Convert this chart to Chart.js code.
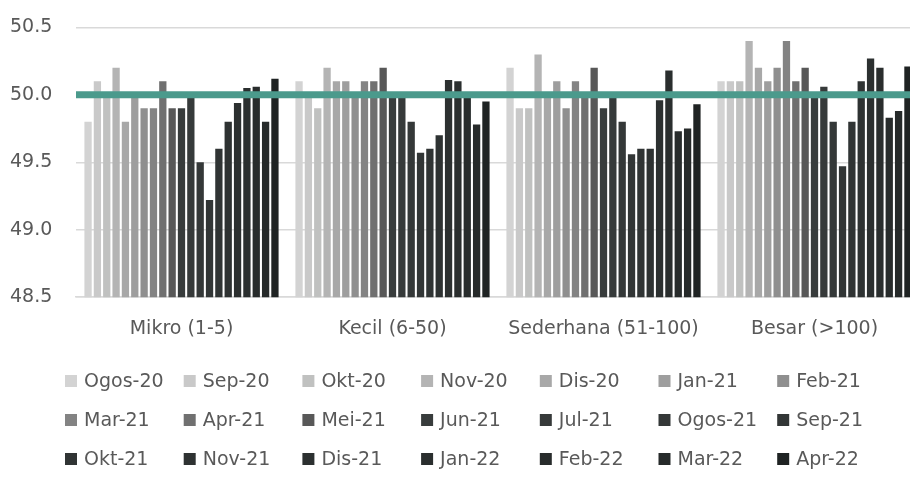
<!DOCTYPE html>
<html>
<head>
<meta charset="utf-8">
<script src="https://cdn.jsdelivr.net/npm/chart.js@4.4.1/dist/chart.umd.min.js"></script>
<style>
html,body{margin:0;padding:0;background:#fff;overflow:hidden;width:910px;height:485px;}
#wrap{position:relative;width:920px;height:485px;}
</style>
</head>
<body>
<div id="wrap"><canvas id="c"></canvas></div>
<script>
// Categories (firm size)
const categories = ['Mikro (1-5)', 'Kecil (6-50)', 'Sederhana (51-100)', 'Besar (>100)'];
// Series (months)
const months = ['Ogos-20','Sep-20','Okt-20','Nov-20','Dis-20','Jan-21','Feb-21','Mar-21','Apr-21','Mei-21','Jun-21','Jul-21','Ogos-21','Sep-21','Okt-21','Nov-21','Dis-21','Jan-22','Feb-22','Mar-22','Apr-22'];
// Values per category, one per month
const mikro     = [49.8,50.1,50.0,50.2,49.8,50.0,49.9,49.9,50.1,49.9,49.9,50.0,49.5,49.22,49.6,49.8,49.94,50.05,50.06,49.8,50.12];
const kecil     = [50.1,50.0,49.9,50.2,50.1,50.1,50.0,50.1,50.1,50.2,50.0,50.0,49.8,49.57,49.6,49.7,50.11,50.1,50.0,49.78,49.95];
const sederhana = [50.2,49.9,49.9,50.3,50.0,50.1,49.9,50.1,50.0,50.2,49.9,50.0,49.8,49.56,49.6,49.6,49.96,50.18,49.73,49.75,49.93];
const besar     = [50.1,50.1,50.1,50.4,50.2,50.1,50.2,50.4,50.1,50.2,50.0,50.06,49.8,49.47,49.8,50.1,50.27,50.2,49.83,49.88,50.21];
// Y-axis ticks and threshold
const yTicks = [48.5, 49.0, 49.5, 50.0, 50.5];
const threshold = 50.0;

const colors = ['#d3d3d3','#c9c9c9','#c0c1c0','#b4b4b4','#a8a8a8','#9e9e9e','#8f8f8f','#838383','#707070','#585858',
                '#383c3c','#363a3a','#343838','#323636','#303434','#2e3232','#2c3030','#2a2e2e','#282c2c','#262a2a','#1f2323'];

const byCategory = [mikro, kecil, sederhana, besar];
const datasets = months.map((m, i) => ({
  label: m,
  data: byCategory.map(arr => arr[i]),
  backgroundColor: colors[i],
  borderWidth: 0,
  categoryPercentage: 0.93,
  barPercentage: 0.78
}));

const FONT = '"DejaVu Sans", sans-serif';
const TXT = '#595959';

const thresholdLine = {
  id: 'thresholdLine',
  afterDatasetsDraw(chart) {
    const {ctx, chartArea, scales} = chart;
    const y = scales.y.getPixelForValue(threshold);
    ctx.save();
    ctx.strokeStyle = '#4b9a8c';
    ctx.lineWidth = 7;
    ctx.beginPath();
    ctx.moveTo(chartArea.left, y);
    ctx.lineTo(chartArea.right, y);
    ctx.stroke();
    ctx.restore();
  }
};

const gridLegend = {
  id: 'gridLegend',
  afterDraw(chart) {
    const ctx = chart.ctx;
    const cols = 7, x0 = 65, colW = 118.7, y0 = 381, rowH = 39, box = 12;
    ctx.save();
    ctx.font = '19px ' + FONT;
    ctx.textBaseline = 'middle';
    ctx.textAlign = 'left';
    chart.data.datasets.forEach((ds, i) => {
      const c = i % cols, r = Math.floor(i / cols);
      const x = x0 + c * colW, y = y0 + r * rowH;
      ctx.fillStyle = ds.backgroundColor;
      ctx.fillRect(x, y - box / 2, box, box);
      ctx.fillStyle = TXT;
      ctx.fillText(ds.label, x + box + 7, y + 1);
    });
    ctx.restore();
  }
};

new Chart(document.getElementById('c'), {
  type: 'bar',
  data: { labels: categories, datasets },
  plugins: [thresholdLine, gridLegend],
  options: {
    responsive: true,
    maintainAspectRatio: false,
    animation: false,
    layout: { padding: { top: 0, left: 10, right: 0, bottom: 125 } },
    plugins: { legend: { display: false }, tooltip: { enabled: false }, title: { display: false } },
    scales: {
      x: {
        grid: { display: false, drawTicks: false },
        border: { display: true, color: '#d9d9d9', width: 1.5 },
        ticks: { color: TXT, font: { family: FONT, size: 19 }, padding: 20 }
      },
      y: {
        min: 48.5, max: 50.5,
        afterBuildTicks(scale) { scale.ticks = yTicks.map(v => ({ value: v })); },
        afterFit(scale) { scale.width = 66; },
        grid: { color: '#d9d9d9', lineWidth: 1.5, drawTicks: false },
        border: { display: false },
        ticks: { color: TXT, font: { family: FONT, size: 19 }, padding: 16, crossAlign: 'far',
                 callback: v => Number(v).toFixed(1) }
      }
    }
  }
});
</script>
</body>
</html>
